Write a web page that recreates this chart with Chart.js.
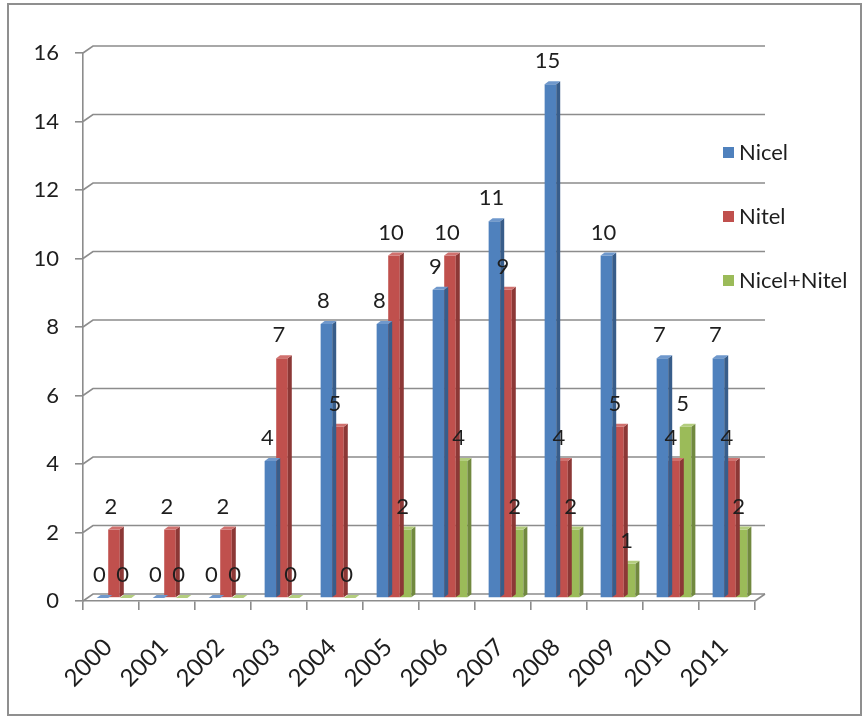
<!DOCTYPE html>
<html>
<head>
<meta charset="utf-8">
<script src="https://cdn.jsdelivr.net/npm/chart.js@4.4.1/dist/chart.umd.min.js"></script>
<style>
  html, body { margin: 0; padding: 0; background: #fff; }
  #wrap { position: relative; width: 868px; height: 719px; }
  #wrap canvas { position: absolute; left: 0; top: 0; }
  #frame { position: absolute; left: 7px; top: 3px; width: 851px; height: 709px; border: 2px solid #8f8f8f; pointer-events: none; }
</style>
</head>
<body>
<div id="wrap">
  <canvas id="chart" width="868" height="719"></canvas>
  <div id="frame"></div>
</div>
<script>
// --- data ---
const years = ['2000', '2001', '2002', '2003', '2004', '2005', '2006', '2007', '2008', '2009', '2010', '2011'];
const nicel = [0, 0, 0, 4, 8, 8, 9, 11, 15, 10, 7, 7];
const nitel = [2, 2, 2, 7, 5, 10, 10, 9, 4, 5, 4, 4];
const both = [0, 0, 0, 0, 0, 2, 4, 2, 2, 1, 5, 2];
const yTicks = [0, 2, 4, 6, 8, 10, 12, 14, 16];

const FONT = "Lato, 'Open Sans', sans-serif";
const GRID = '#8c8c8c';
const TEXT = '#1e1e1e';

// fake 3D depth
const DX = 10, DY = -7;          // back wall offset
const SHIFT_X = 3, SHIFT_Y = -3; // bars sit mid-depth
const SIDE = 4, TOPH = 3;        // bar side / top face

const colors = [
  { front: '#4F81BD', side: '#385D8A', top: '#6F98CC' },
  { front: '#C0504D', side: '#8C3836', top: '#D0716E' },
  { front: '#9BBB59', side: '#71893F', top: '#B3CD7E' }
];

// back wall gridlines, floor, bar depth, labels, legend
const wall3d = {
  id: 'wall3d',
  beforeDatasetsDraw(chart) {
    const { ctx, chartArea, scales: { y } } = chart;
    ctx.save();
    ctx.strokeStyle = GRID;
    ctx.lineWidth = 1.6;
    y.ticks.forEach(t => {
      const py = y.getPixelForValue(t.value);
      ctx.beginPath();
      ctx.moveTo(chartArea.left, py);
      ctx.lineTo(chartArea.left + DX, py + DY);
      ctx.lineTo(chartArea.right + DX, py + DY);
      ctx.stroke();
    });
    // floor right edge
    const p0 = y.getPixelForValue(0);
    ctx.beginPath();
    ctx.moveTo(chartArea.right, p0);
    ctx.lineTo(chartArea.right + DX, p0 + DY);
    ctx.stroke();
    ctx.restore();

    ctx.save();
    ctx.translate(SHIFT_X, SHIFT_Y);
  },
  afterDatasetDraw(chart, args) {
    const { ctx } = chart;
    const c = colors[args.index];
    args.meta.data.forEach(bar => {
      const { x, y, base, width } = bar.getProps(['x', 'y', 'base', 'width'], true);
      const l = x - width / 2, r = x + width / 2;
      // side
      ctx.fillStyle = c.side;
      ctx.beginPath();
      ctx.moveTo(r, y);
      ctx.lineTo(r + SIDE, y - TOPH);
      ctx.lineTo(r + SIDE, base - TOPH);
      ctx.lineTo(r, base);
      ctx.closePath();
      ctx.fill();
      // top
      ctx.fillStyle = c.top;
      ctx.beginPath();
      ctx.moveTo(l, y);
      ctx.lineTo(r, y);
      ctx.lineTo(r + SIDE, y - TOPH);
      ctx.lineTo(l + SIDE, y - TOPH);
      ctx.closePath();
      ctx.fill();
    });
  },
  afterDatasetsDraw(chart) {
    const { ctx } = chart;
    ctx.restore();

    // value labels
    ctx.save();
    ctx.font = '22px ' + FONT;
    ctx.fillStyle = TEXT;
    ctx.textAlign = 'center';
    ctx.textBaseline = 'alphabetic';
    chart.data.datasets.forEach((ds, i) => {
      chart.getDatasetMeta(i).data.forEach((bar, j) => {
        ctx.fillText(String(ds.data[j]), bar.x, bar.y + SHIFT_Y - 16);
      });
    });
    ctx.restore();
  },
  afterDraw(chart) {
    // legend on the right
    const { ctx } = chart;
    ctx.save();
    ctx.font = '22px ' + FONT;
    ctx.textBaseline = 'middle';
    chart.data.datasets.forEach((ds, i) => {
      const cy = 152 + i * 64;
      ctx.fillStyle = colors[i].front;
      ctx.fillRect(723, cy - 5, 11, 11);
      ctx.fillStyle = TEXT;
      ctx.fillText(ds.label, 739, cy + 1);
    });
    ctx.restore();
  }
};

const ctx = document.getElementById('chart').getContext('2d');
new Chart(ctx, {
  type: 'bar',
  data: {
    labels: years,
    datasets: [
      { label: 'Nicel', data: nicel, backgroundColor: colors[0].front, clip: false },
      { label: 'Nitel', data: nitel, backgroundColor: colors[1].front, clip: false },
      { label: 'Nicel+Nitel', data: both, backgroundColor: colors[2].front, clip: false }
    ]
  },
  options: {
    responsive: false,
    animation: false,
    layout: { padding: { top: 53, right: 113, left: 0, bottom: 0 } },
    datasets: {
      bar: { categoryPercentage: 0.62, barPercentage: 1, borderWidth: 0 }
    },
    plugins: {
      legend: { display: false },
      tooltip: { enabled: false }
    },
    scales: {
      x: {
        grid: { drawOnChartArea: false, drawTicks: true, tickLength: 9, color: GRID, lineWidth: 1.6 },
        border: { display: true, color: GRID, width: 1.6 },
        ticks: {
          color: TEXT,
          font: { family: FONT, size: 24 },
          minRotation: 45,
          maxRotation: 45,
          labelOffset: -3,
          padding: 23
        },
        afterFit(scale) { scale.height = 118; }
      },
      y: {
        min: 0,
        max: 16,
        afterBuildTicks(scale) { scale.ticks = yTicks.map(v => ({ value: v })); },
        grid: { drawOnChartArea: false, drawTicks: true, tickLength: 8, color: GRID, lineWidth: 1.6 },
        border: { display: true, color: GRID, width: 1.6 },
        ticks: {
          color: TEXT,
          font: { family: FONT, size: 22 },
          padding: 16
        },
        afterFit(scale) { scale.width = 83; }
      }
    }
  },
  plugins: [wall3d]
});
</script>
</body>
</html>
